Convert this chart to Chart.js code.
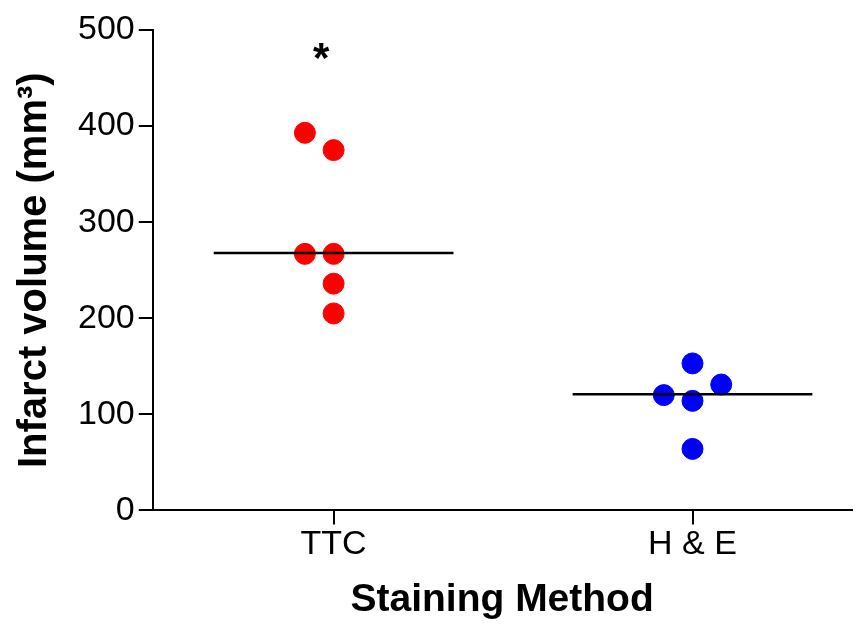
<!DOCTYPE html>
<html>
<head>
<meta charset="utf-8">
<script src="https://cdn.jsdelivr.net/npm/chart.js@4.4.1/dist/chart.umd.min.js"></script>
<style>
  html, body { margin: 0; padding: 0; background: #fff; overflow: hidden; }
  #chart { display: block; }
</style>
</head>
<body>
<canvas id="chart" width="863" height="628"></canvas>
<script>
// categories and their positions on the x scale
const categories = ["TTC", "H & E"];
const categoryPos = [1, 2];

// individual measurements (x = category position + jitter, y = infarct volume mm3)
const ttcX = [0.92, 1.0, 0.92, 1.0, 1.0, 1.0];
const ttcY = [393, 375, 267, 267, 236, 205];
const heX = [2.0, 1.92, 2.0, 2.08, 2.0];
const heY = [153, 120, 114, 131, 64];

// median lines
const medianHalfWidth = 0.334;
const medians = [268, 121];

// significance marker
const starX = 0.965;
const starY = 479;

const yTicks = [0, 100, 200, 300, 400, 500];

const FONT = "'Liberation Sans', Arial, sans-serif";
const toPoints = (xs, ys) => xs.map((x, i) => ({ x: x, y: ys[i] }));

const starPlugin = {
  id: "star",
  afterDatasetsDraw(chart) {
    const { ctx, scales } = chart;
    ctx.save();
    ctx.fillStyle = "#000";
    ctx.font = "bold 42px " + FONT;
    ctx.textAlign = "center";
    ctx.textBaseline = "middle";
    ctx.fillText("*", scales.x.getPixelForValue(starX), scales.y.getPixelForValue(starY) + 10);
    ctx.restore();
  }
};

new Chart(document.getElementById("chart"), {
  type: "scatter",
  data: {
    datasets: [
      {
        label: "TTC median",
        data: [
          { x: categoryPos[0] - medianHalfWidth, y: medians[0] },
          { x: categoryPos[0] + medianHalfWidth, y: medians[0] }
        ],
        showLine: true,
        borderColor: "#000",
        borderWidth: 2.5,
        pointRadius: 0
      },
      {
        label: "H & E median",
        data: [
          { x: categoryPos[1] - medianHalfWidth, y: medians[1] },
          { x: categoryPos[1] + medianHalfWidth, y: medians[1] }
        ],
        showLine: true,
        borderColor: "#000",
        borderWidth: 2.5,
        pointRadius: 0
      },
      {
        label: "TTC",
        data: toPoints(ttcX, ttcY),
        backgroundColor: "#ff0000",
        borderColor: "#ff0000",
        pointRadius: 10.5
      },
      {
        label: "H & E",
        data: toPoints(heX, heY),
        backgroundColor: "#0000ff",
        borderColor: "#0000ff",
        pointRadius: 10.5
      }
    ]
  },
  options: {
    responsive: false,
    animation: false,
    layout: { padding: { top: 30, right: 0, left: 11, bottom: 4 } },
    plugins: {
      legend: { display: false },
      tooltip: { enabled: false }
    },
    scales: {
      x: {
        type: "linear",
        min: 0.496,
        max: 2.443,
        afterBuildTicks: (axis) => {
          axis.ticks = categoryPos.map((v) => ({ value: v }));
        },
        afterFit: (axis) => {
          axis.paddingLeft = 0;
          axis.paddingRight = 0;
        },
        grid: {
          drawOnChartArea: false,
          color: "#000",
          lineWidth: 2,
          tickLength: 14
        },
        border: { color: "#000", width: 2 },
        ticks: {
          color: "#000",
          font: { family: FONT, size: 34 },
          padding: 0,
          callback: (v) => {
            const i = categoryPos.indexOf(v);
            return i >= 0 ? categories[i] : "";
          }
        },
        title: {
          display: true,
          text: "Staining Method",
          color: "#000",
          font: { family: FONT, size: 39, weight: "bold" },
          padding: { top: 12, bottom: 0 }
        }
      },
      y: {
        min: 0,
        max: 500,
        afterBuildTicks: (axis) => {
          axis.ticks = yTicks.map((v) => ({ value: v }));
        },
        grid: {
          drawOnChartArea: false,
          color: "#000",
          lineWidth: 2,
          tickLength: 14
        },
        border: { color: "#000", width: 2 },
        ticks: {
          color: "#000",
          font: { family: FONT, size: 34 },
          padding: 4
        },
        title: {
          display: true,
          text: "Infarct volume (mm\u00B3)",
          color: "#000",
          font: { family: FONT, size: 40, weight: "bold" },
          padding: { top: 0, bottom: 15 }
        }
      }
    }
  },
  plugins: [starPlugin]
});
</script>
</body>
</html>
